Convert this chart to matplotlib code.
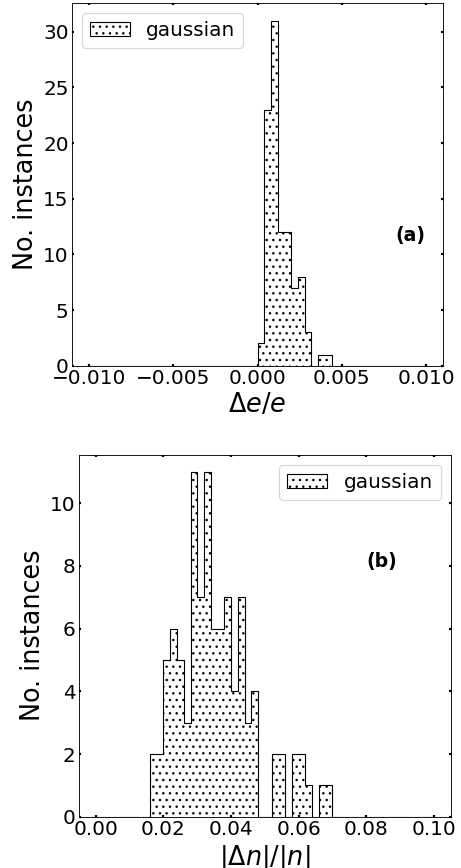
import numpy as np
import matplotlib.pyplot as plt

# panel (a): Delta e / e, 50 bins on [-0.01, 0.01]
de_range = (-0.01, 0.01)
de_counts = [0, 0, 0, 0, 0, 0, 0, 0, 0, 0,
             0, 0, 0, 0, 0, 0, 0, 0, 0, 0,
             0, 0, 0, 0, 0, 2, 23, 31, 12, 12,
             7, 8, 3, 0, 1, 1, 0, 0, 0, 0,
             0, 0, 0, 0, 0, 0, 0, 0, 0, 0]

# panel (b): |Delta n| / |n|, 50 bins on [0, 0.1]
dn_range = (0.0, 0.1)
dn_counts = [0, 0, 0, 0, 0, 0, 0, 0, 2, 2,
             5, 6, 5, 3, 11, 7, 11, 6, 6, 7,
             4, 7, 3, 4, 0, 0, 2, 2, 0, 2,
             2, 1, 0, 1, 1, 0, 0, 0, 0, 0,
             0, 0, 0, 0, 0, 0, 0, 0, 0, 0]

de_ticks = [-0.010, -0.005, 0.000, 0.005, 0.010]
dn_ticks = [0.00, 0.02, 0.04, 0.06, 0.08, 0.10]

dpi = 80
fig = plt.figure(figsize=(461 / dpi, 868 / dpi), dpi=dpi)
ax1 = fig.add_axes([0.1562, 0.5787, 0.8048, 0.4174])
ax2 = fig.add_axes([0.1714, 0.0591, 0.8063, 0.4171])


def draw(ax, counts, rng, ticks, fmt, xlabel, tag, tag_xy, loc):
    edges = np.linspace(rng[0], rng[1], len(counts) + 1)
    centers = 0.5 * (edges[:-1] + edges[1:])
    ax.hist(centers, bins=edges, weights=counts, histtype='step',
            hatch='..', color='k', lw=1.0, label='gaussian')
    ax.set_xticks(ticks)
    ax.set_xticklabels([fmt.format(t).replace('-', '\u2212') for t in ticks])
    ax.tick_params(direction='in', top=True, right=True, length=2,
                   width=2, labelsize=18, pad=3)
    ax.set_xlabel(xlabel, fontsize=23)
    ax.set_ylabel('No. instances', fontsize=23)
    ax.text(tag_xy[0], tag_xy[1], tag, transform=ax.transAxes,
            fontsize=17, fontweight='bold', ha='center', va='center')
    ax.legend(loc=loc, fontsize=18)


draw(ax1, de_counts, de_range, de_ticks, '{:.3f}', r'$\Delta e/e$',
     '(a)', (0.911, 0.358), 'upper left')
ax1.set_yticks([0, 5, 10, 15, 20, 25, 30])

draw(ax2, dn_counts, dn_range, dn_ticks, '{:.2f}', r'$|\Delta n|/|n|$',
     '(b)', (0.815, 0.704), 'upper right')
ax2.set_yticks([0, 2, 4, 6, 8, 10])

fig.savefig('out.png', dpi=dpi)
